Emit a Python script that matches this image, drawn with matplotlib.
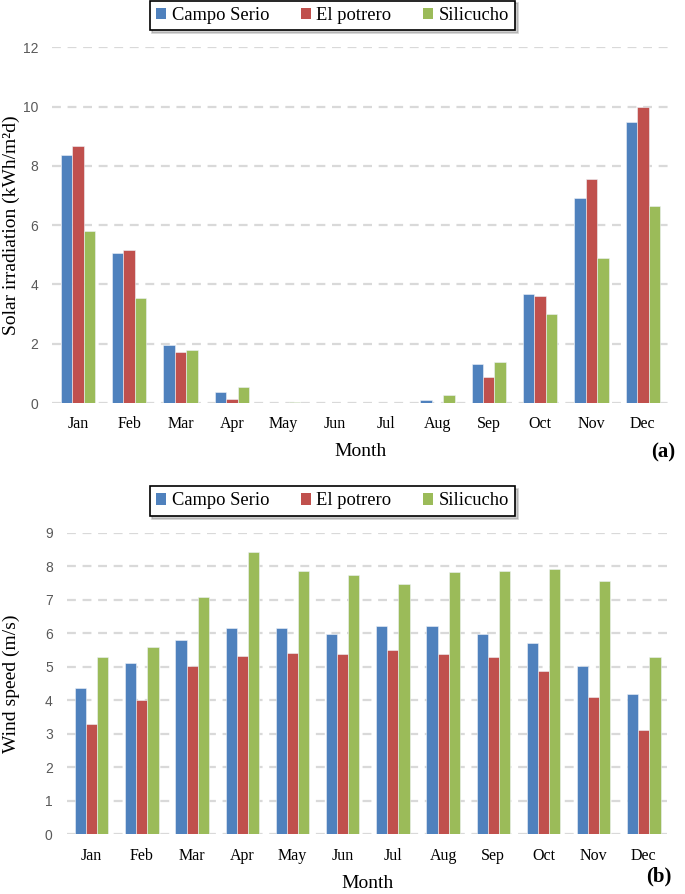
import numpy as np
import matplotlib.pyplot as plt
from matplotlib.patches import Patch

# --------------------------------
# Data
# --------------------------------
months = ["Jan", "Feb", "Mar", "Apr", "May", "Jun",
          "Jul", "Aug", "Sep", "Oct", "Nov", "Dec"]
sites = ["Campo Serio", "El potrero", "Silicucho"]

solar_campo = [8.36, 5.06, 1.97, 0.36, 0.0, 0.0, 0.0, 0.09, 1.31, 3.67, 6.93, 9.48]
solar_potrero = [8.66, 5.17, 1.72, 0.12, 0.0, 0.0, 0.0, 0.01, 0.88, 3.62, 7.55, 9.98]
solar_silicucho = [5.80, 3.54, 1.79, 0.53, 0.02, 0.0, 0.0, 0.27, 1.40, 3.00, 4.89, 6.66]

wind_campo = [4.38, 5.12, 5.81, 6.15, 6.15, 5.99, 6.23, 6.21, 5.98, 5.70, 5.02, 4.18]
wind_potrero = [3.28, 4.01, 5.01, 5.33, 5.40, 5.37, 5.50, 5.37, 5.28, 4.87, 4.11, 3.10]
wind_silicucho = [5.28, 5.58, 7.07, 8.42, 7.86, 7.73, 7.46, 7.82, 7.86, 7.91, 7.56, 5.28]

colors = ["#4f81bd", "#c0504d", "#9bbb59"]

serif = "Liberation Serif"
sans = "Liberation Sans"

# --------------------------------
# Figure / axes
# --------------------------------
fig = plt.figure(figsize=(6.85, 8.94), dpi=100)
ax1 = fig.add_axes([0.0761, 0.5492, 0.8999, 0.3978])
ax2 = fig.add_axes([0.0972, 0.0667, 0.8794, 0.3374])


def draw_panel(ax, series, yticks, ylabel, label_x, tag, tag_xy, legend_y):
    x = np.arange(len(months))
    w = 0.222
    for i, (vals, c) in enumerate(zip(series, colors)):
        ax.bar(x + (i - 1) * w, vals, width=w, color=c,
               edgecolor="#eef3f8", linewidth=0.4, zorder=3)
    ax.set_xlim(-0.5, len(months) - 0.5)
    ax.set_ylim(yticks[0], yticks[-1])
    ax.set_yticks(yticks)
    ax.set_xticks(x)
    ax.set_xticklabels(months, family=serif, fontsize=11.5)
    for t in ax.get_yticklabels():
        t.set_family(sans)
    ax.yaxis.grid(True, color="#d9d9d9", linestyle=(0, (4, 3)), linewidth=1.6, zorder=0)
    ax.set_axisbelow(True)
    for s in ax.spines.values():
        s.set_visible(False)
    ax.tick_params(axis="both", length=0)
    ax.tick_params(axis="x", pad=9.5)
    ax.tick_params(axis="y", pad=10, labelcolor="#595959", labelsize=10)
    ax.set_xlabel("Month", family=serif, fontsize=14, labelpad=8)
    ax.set_ylabel(ylabel, family=serif, fontsize=14)
    ax.yaxis.set_label_coords(label_x, 0.5)
    fig.text(tag_xy[0], tag_xy[1], tag, family=serif, fontsize=15,
             fontweight="bold", ha="right", va="center")
    handles = [Patch(facecolor=c, edgecolor="none") for c in colors]
    leg = fig.legend(handles, sites, loc="center", bbox_to_anchor=legend_y,
                     ncol=3, frameon=True, fancybox=False,
                     shadow={"color": "#777777", "alpha": 0.35},
                     prop={"family": serif, "size": 13.3},
                     handlelength=0.55, handleheight=0.55, handletextpad=0.3,
                     columnspacing=1.7, borderpad=0.35)
    leg.get_frame().set_edgecolor("black")
    leg.get_frame().set_linewidth(1.2)


draw_panel(ax1, [solar_campo, solar_potrero, solar_silicucho], np.arange(0, 13, 2),
           "Solar irradiation (kWh/m²d)", -0.052, "(a)", (0.9854, 0.4944),
           (0.4854, 0.9827))

draw_panel(ax2, [wind_campo, wind_potrero, wind_silicucho], np.arange(0, 10, 1),
           "Wind speed (m/s)", -0.0774, "(b)", (0.981, 0.0201),
           (0.4854, 0.4396))

fig.savefig("out.png", dpi=100)
